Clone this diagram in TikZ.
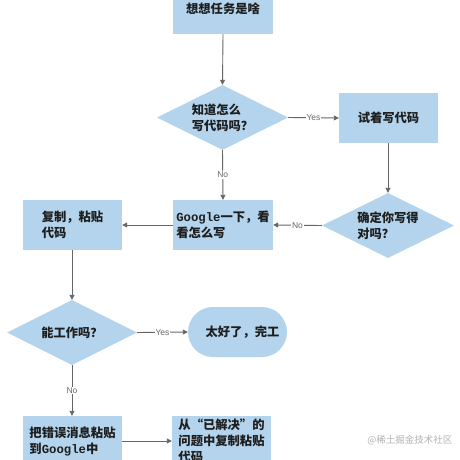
\documentclass[tikz,border=0pt]{standalone}
\usepackage{fontspec}
\setmainfont{Noto Sans CJK SC}
\newfontfamily\gmono{Liberation Mono}
\newfontfamily\lab{Liberation Sans}
\usetikzlibrary{shapes.geometric,arrows.meta}
\definecolor{boxblue}{HTML}{B3D4EC}
\definecolor{linegray}{HTML}{666666}
\definecolor{txt}{HTML}{1E1E1E}
\newcommand{\ggl}{{\gmono\bfseries Google}}
\tikzset{
  box/.style={rectangle, fill=boxblue, minimum width=100pt, minimum height=50pt, inner sep=0pt, align=left, font=\bfseries\fontsize{12.3}{16}\selectfont, text=txt},
  dia/.style={diamond, aspect=2, fill=boxblue, minimum width=131pt, minimum height=65pt, inner sep=0pt, align=left, font=\bfseries\fontsize{12.3}{16}\selectfont, text=txt},
  stad/.style={rectangle, rounded corners=25pt, fill=boxblue, minimum width=99pt, minimum height=50pt, inner sep=0pt, align=left, font=\bfseries\fontsize{12.3}{16}\selectfont, text=txt},
  conn/.style={draw=linegray, line width=0.9pt, -{Triangle[width=5pt,length=5pt]}},
  elab/.style={fill=white, inner sep=1pt, font=\lab\fontsize{8.5}{9}\selectfont, text=linegray}
}
\begin{document}
\begin{tikzpicture}[x=1pt,y=-1pt]
\useasboundingbox (0,0) rectangle (460,460);
\clip (0,0) rectangle (460,460);
\fill[white] (0,0) rectangle (460,460);
\node[box] (b1) at (223,9) {想想任务是啥};
\node[dia] (d1) at (222.5,117.5) {知道怎么\\写代码吗？};
\node[box, minimum width=99pt] (b2) at (388.5,118) {试着写代码};
\node[dia, minimum width=132pt] (d2) at (388,225.5) {确定你写得\\对吗？};
\node[box] (g) at (223,225) {\ggl 一下，看\\看怎么写};
\node[box, minimum width=99pt] (c) at (72.5,225) {复制，粘贴\\代码};
\node[dia, minimum width=130pt] (d3) at (72,332.5) {能工作吗？};
\node[stad] (done) at (237.5,332) {\hspace*{10pt}太好了，完工};
\node[box, minimum width=99pt] (e) at (72.5,441) {把错误消息粘贴\\到\ggl 中};
\node[box, minimum width=99pt] (f) at (221.5,441) {从“已解决”的\\问题中复制粘贴\\代码};
\draw[conn] (b1.south) -- (d1.north);
\draw[conn] (d1.east) -- node[elab] {Yes} (b2.west);
\draw[conn] (b2.south -| d2.north) -- (d2.north);
\draw[conn] (d2.west) -- node[elab] {No} (g.east);
\draw[conn] (d1.south) -- node[elab] {No} (g.north);
\draw[conn] (g.west) -- (c.east);
\draw[conn] (c.south -| d3.north) -- (d3.north);
\draw[conn] (d3.east) -- node[elab] {Yes} (done.west);
\draw[conn] (d3.south) -- node[elab] {No} (e.north -| d3.south);
\draw[conn] (e.east) -- (f.west);
\node[text=black!30, font=\fontsize{9.5}{10}\selectfont, anchor=east] (wm) at (456,440) {@稀土掘金技术社区};
\end{tikzpicture}
\end{document}
